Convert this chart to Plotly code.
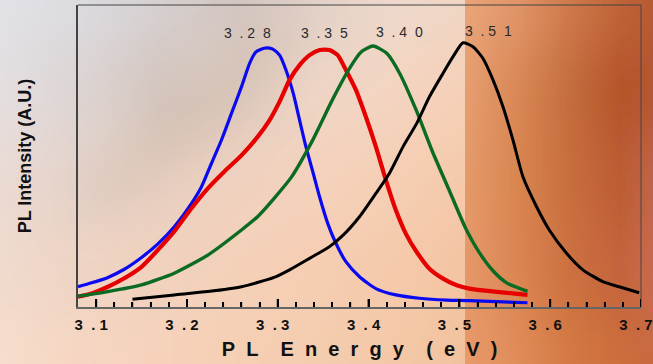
import base64
import plotly.graph_objects as go

# ---------------- data ----------------
energy_blue = [3.080, 3.095, 3.113, 3.131, 3.150, 3.168, 3.186, 3.205, 3.216, 3.227, 3.238, 3.249,
               3.260, 3.269, 3.276, 3.285, 3.291, 3.296, 3.302, 3.309, 3.317, 3.324, 3.331, 3.339,
               3.346, 3.355, 3.364, 3.375, 3.390, 3.408, 3.430, 3.456, 3.486, 3.511, 3.575]
intensity_blue = [0.067, 0.080, 0.098, 0.125, 0.164, 0.209, 0.266, 0.343, 0.398, 0.476, 0.553, 0.641,
                  0.729, 0.807, 0.845, 0.857, 0.857, 0.851, 0.834, 0.785, 0.708, 0.619, 0.531, 0.443,
                  0.365, 0.277, 0.211, 0.150, 0.100, 0.061, 0.040, 0.029, 0.023, 0.021, 0.014]

energy_red = [3.080, 3.095, 3.113, 3.131, 3.150, 3.168, 3.186, 3.205, 3.223, 3.241, 3.260, 3.278,
              3.291, 3.302, 3.313, 3.324, 3.335, 3.346, 3.357, 3.366, 3.375, 3.386, 3.397, 3.408,
              3.419, 3.430, 3.441, 3.453, 3.467, 3.482, 3.497, 3.511, 3.575]
intensity_red = [0.034, 0.045, 0.067, 0.095, 0.133, 0.189, 0.250, 0.327, 0.393, 0.448, 0.502, 0.564,
                 0.619, 0.680, 0.752, 0.801, 0.834, 0.851, 0.851, 0.834, 0.785, 0.719, 0.630, 0.531,
                 0.421, 0.321, 0.243, 0.182, 0.127, 0.094, 0.072, 0.061, 0.040]

energy_green = [3.080, 3.113, 3.150, 3.186, 3.223, 3.260, 3.278, 3.296, 3.315, 3.338, 3.360, 3.379,
                3.392, 3.405, 3.420, 3.434, 3.452, 3.471, 3.489, 3.507, 3.522, 3.537, 3.552, 3.575]
intensity_green = [0.036, 0.051, 0.073, 0.112, 0.172, 0.255, 0.300, 0.360, 0.430, 0.550, 0.685, 0.790,
                   0.845, 0.864, 0.840, 0.775, 0.655, 0.510, 0.385, 0.260, 0.180, 0.120, 0.080, 0.052]

energy_black = [3.140, 3.186, 3.223, 3.260, 3.296, 3.313, 3.335, 3.357, 3.372, 3.390, 3.408, 3.423,
                3.438, 3.453, 3.467, 3.482, 3.493, 3.504, 3.515, 3.526, 3.537, 3.548, 3.559, 3.570,
                3.585, 3.599, 3.618, 3.636, 3.658, 3.676, 3.698]
intensity_black = [0.026, 0.040, 0.051, 0.067, 0.098, 0.123, 0.161, 0.200, 0.238, 0.299, 0.376, 0.443,
                   0.531, 0.608, 0.696, 0.774, 0.829, 0.875, 0.862, 0.823, 0.752, 0.663, 0.553, 0.431,
                   0.332, 0.255, 0.178, 0.123, 0.084, 0.067, 0.047]

x_tick_values = [3.1, 3.2, 3.3, 3.4, 3.5, 3.6, 3.7]
x_tick_labels = ["3.1", "3.2", "3.3", "3.4", "3.5", "3.6", "3.7"]
peak_labels = ["3.28", "3.35", "3.40", "3.51"]

x_title = "PL Energy (eV)"
y_title = "PL Intensity (A.U.)"

X_RANGE = [3.08, 3.7]
MINOR_STEP = 0.02

NB = "\u00a0"


def spaced_number(s, inner=2):
    a, b = s.split(".")
    return a + NB * 2 + "." + NB + (NB * inner).join(b)


def spaced_title(s):
    words = s.split(" ")
    return (NB * 4).join((NB * 2).join(w) for w in words)


# ---------------- background (style) ----------------
left_cols = [0, 80, 160, 240, 320, 400, 465]
left_rows = [0, 90, 180, 270, 364]
left_colors = [
    ["#e1e2e7", "#dcdbe0", "#d6d0d0", "#d2c5bf", "#e2d1c8", "#eed9cc", "#f0d6c4"],
    ["#e4dfe0", "#dcd4d2", "#d4c6bf", "#dfccc1", "#efd6c6", "#f4d4c0", "#f5d0b8"],
    ["#eadad3", "#e5d3ca", "#e8d0c2", "#f0d2c0", "#f5d2bc", "#f5ceb4", "#f5c9aa"],
    ["#f0dacd", "#efd4c4", "#f1d2be", "#f4d0b8", "#f5cdb2", "#f5c9aa", "#f3c4a2"],
    ["#f7ddcc", "#f6d6c2", "#f6d2ba", "#f5cfb4", "#f4ccae", "#f4c8a6", "#f2c29e"],
]
right_cols = [465, 520, 570, 620, 653]
right_rows = [0, 90, 180, 270, 364]
right_colors = [
    ["#eaa57a", "#e09468", "#cf7a4c", "#c06438", "#b85a34"],
    ["#e69e70", "#d88654", "#c46c3c", "#b4542a", "#b45430"],
    ["#e49a6a", "#d8844e", "#c86e3e", "#bc5c34", "#c06448"],
    ["#e6986a", "#da8452", "#cc7040", "#c4643c", "#c86a4c"],
    ["#e89a6a", "#e08c58", "#d47a44", "#cc6e3c", "#c86a40"],
]


def region_svg(prefix, cols, rows, colors, x0, x1):
    defs = []
    rects = []
    for i, row in enumerate(colors):
        stops = "".join(
            f'<stop offset="{(c - x0) / (x1 - x0):.4f}" stop-color="{col}"/>'
            for c, col in zip(cols, row))
        defs.append(f'<linearGradient id="{prefix}{i}" gradientUnits="userSpaceOnUse" '
                    f'x1="{x0}" y1="0" x2="{x1}" y2="0">{stops}</linearGradient>')
        top = -250 if i == 0 else (rows[i - 1] + rows[i]) / 2
        bot = 620 if i == len(rows) - 1 else (rows[i] + rows[i + 1]) / 2
        rects.append(f'<rect x="{x0 - 30}" y="{top}" width="{x1 - x0 + 60}" height="{bot - top}" '
                     f'fill="url(#{prefix}{i})"/>')
    return defs, rects


ld, lr = region_svg("L", left_cols, left_rows, left_colors, 0, 465)
rd, rr = region_svg("R", right_cols, right_rows, right_colors, 465, 653)
svg = (
    '<svg xmlns="http://www.w3.org/2000/svg" width="653" height="364" viewBox="0 0 653 364">'
    '<defs>' + "".join(ld + rd) +
    '<filter id="bl" filterUnits="userSpaceOnUse" x="-200" y="-400" width="1100" height="1200">'
    '<feGaussianBlur stdDeviation="1 30"/></filter>'
    '<filter id="bd" filterUnits="userSpaceOnUse" x="-200" y="-400" width="1100" height="1200">'
    '<feGaussianBlur stdDeviation="25"/></filter>'
    '<clipPath id="cl"><rect x="0" y="0" width="465" height="364"/></clipPath>'
    '<clipPath id="cr"><rect x="465" y="0" width="188" height="364"/></clipPath>'
    '</defs>'
    '<g clip-path="url(#cl)"><g filter="url(#bl)">' + "".join(lr) + '</g>'
    '<g filter="url(#bd)"><ellipse cx="190" cy="120" rx="150" ry="26" fill="#bfa89c" '
    'opacity="0.3" transform="rotate(-40 190 120)"/></g></g>'
    '<g clip-path="url(#cr)"><g filter="url(#bl)">' + "".join(rr) + '</g></g>'
    '</svg>'
)
bg_uri = "data:image/svg+xml;base64," + base64.b64encode(svg.encode()).decode()

# ---------------- figure ----------------
W, H = 653, 364
ML, MR, MT, MB = 78, 12, 5, 57
PW, PH = W - ML - MR, H - MT - MB

series = [
    (energy_blue, intensity_blue, "#0a0af0", 3.2),
    (energy_red, intensity_red, "#e60000", 4.2),
    (energy_green, intensity_green, "#0b6b22", 3.4),
    (energy_black, intensity_black, "#000000", 3.0),
]

fig = go.Figure()
for ex, iy, col, w in series:
    fig.add_trace(go.Scatter(x=ex, y=iy, mode="lines",
                             line=dict(color=col, width=w, shape="spline", smoothing=0.6),
                             hoverinfo="skip"))

label_shifts = [(-17, 15), (5, 17), (26, 14), (25, 12)]
annotations = []
for (ex, iy, col, w), lab, (dx, dy) in zip(series, peak_labels, label_shifts):
    k = iy.index(max(iy))
    annotations.append(dict(x=ex[k], y=iy[k], xref="x", yref="y", text=spaced_number(lab),
                            showarrow=False, xanchor="center", yanchor="middle",
                            xshift=dx, yshift=dy,
                            font=dict(family="Liberation Sans, Arial", size=14, color="#2a2a2a")))

# frame lines (top and right) plus inward tick marks placed through the x scale
shapes = [
    dict(type="line", xref="paper", yref="paper", x0=0, x1=1, y0=1, y1=1,
         line=dict(color="#444444", width=1)),
    dict(type="line", xref="paper", yref="paper", x0=1, x1=1, y0=0, y1=1,
         line=dict(color="#444444", width=1)),
]
for v in x_tick_values:
    shapes.append(dict(type="line", xref="x", yref="paper", x0=v, x1=v, y0=0, y1=8 / PH,
                       line=dict(color="#000000", width=2), layer="above"))
n_minor = int(round((X_RANGE[1] - X_RANGE[0]) / MINOR_STEP))
for i in range(1, n_minor):
    v = round(X_RANGE[0] + MINOR_STEP * i, 3)
    if any(abs(v - m) < 1e-6 for m in x_tick_values):
        continue
    shapes.append(dict(type="line", xref="x", yref="paper", x0=v, x1=v, y0=0, y1=5 / PH,
                       line=dict(color="#000000", width=1.5), layer="above"))

fig.update_layout(
    width=W, height=H,
    margin=dict(l=ML, r=MR, t=MT, b=MB),
    paper_bgcolor="#f0d8c8",
    plot_bgcolor="rgba(0,0,0,0)",
    showlegend=False,
    annotations=annotations,
    images=[dict(source=bg_uri, xref="paper", yref="paper",
                 x=-ML / PW, y=1 + MT / PH, sizex=W / PW, sizey=H / PH,
                 xanchor="left", yanchor="top", sizing="stretch", layer="below")],
    shapes=shapes,
)

fig.update_xaxes(
    range=X_RANGE, tickmode="array", tickvals=x_tick_values,
    ticktext=["<b>" + spaced_number(t) + "</b>" for t in x_tick_labels],
    ticks="inside", ticklen=8, tickwidth=2, tickcolor="#000000",
    minor=dict(tick0=3.0, dtick=MINOR_STEP, ticks="inside", ticklen=5,
               tickwidth=1.5, tickcolor="#000000"),
    showline=True, linecolor="#666666", linewidth=2,
    showgrid=False, zeroline=False, automargin=False,
    tickfont=dict(family="Liberation Sans, Arial", size=15, color="#111111"),
    ticklabelshift=-5, ticklabelstandoff=3,
    title=dict(text="<b>" + spaced_title(x_title) + "</b>", standoff=10,
               font=dict(family="Liberation Sans, Arial", size=20, color="#111111")),
)
fig.update_yaxes(
    range=[0, 1], showticklabels=False,
    showline=True, linecolor="#444444", linewidth=1.5,
    showgrid=False, zeroline=False, automargin=False,
    title=dict(text="<b>" + y_title + "</b>", standoff=40,
               font=dict(family="Liberation Sans, Arial", size=18, color="#111111")),
)

fig.write_html("out.html", config={"displayModeBar": False},
               post_script="document.body.style.margin='0';")
